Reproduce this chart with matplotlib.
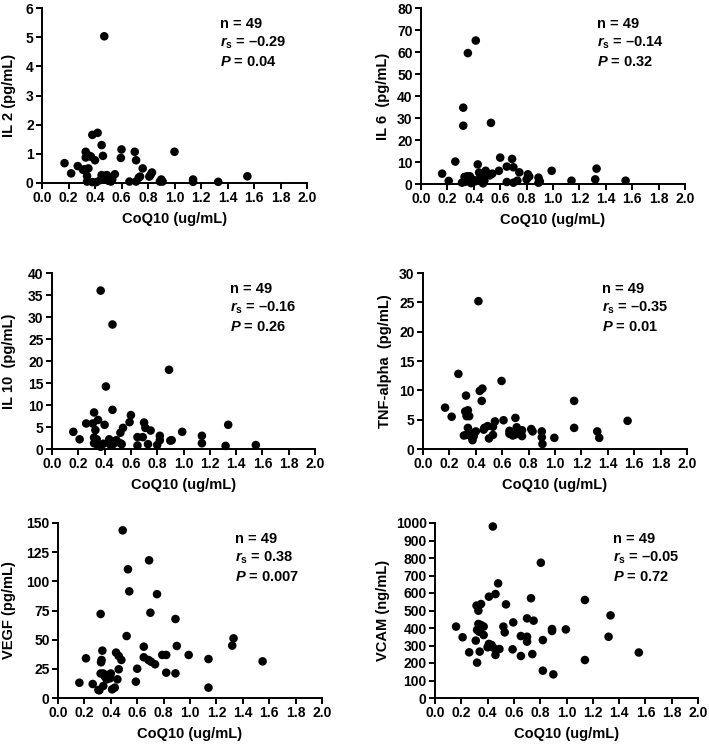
import numpy as np
import matplotlib
matplotlib.use("Agg")
import matplotlib.pyplot as plt
from matplotlib.ticker import FormatStrFormatter

plt.rcParams['font.family'] = ['Liberation Sans', 'DejaVu Sans']
plt.rcParams['font.weight'] = 'bold'
plt.rcParams['mathtext.fontset'] = 'custom'
plt.rcParams['mathtext.rm'] = 'Liberation Sans:bold'
plt.rcParams['mathtext.it'] = 'Liberation Sans:italic:bold'
plt.rcParams['mathtext.bf'] = 'Liberation Sans:bold'

# IL 2
il2_x = [0.17, 0.22, 0.27, 0.33, 0.33, 0.36, 0.38, 0.42, 0.40, 0.35, 0.32, 0.34, 0.34, 0.38,
         0.41, 0.45, 0.46, 0.45, 0.47, 0.49, 0.50, 0.53, 0.55, 0.60, 0.595, 0.66, 0.70, 0.71,
         0.71, 0.76, 0.74, 0.81, 0.83, 0.90, 0.91, 1.00, 1.14, 1.14, 1.33, 1.55, 0.47,
         0.44, 0.48, 0.52, 0.31, 0.37, 0.73, 0.82, 0.89]
il2_y = [0.68, 0.33, 0.58, 1.07, 0.875, 0.93, 1.65, 1.72, 0.78, 0.50, 0.47, 0.24, 0.05, 0.03,
         0.03, 1.30, 0.93, 0.27, 0.12, 0.27, 0.08, 0.12, 0.30, 1.15, 0.86, 0.05, 1.07, 0.78,
         0.05, 0.50, 0.22, 0.22, 0.36, 0.12, 0.05, 1.07, 0.12, 0.04, 0.04, 0.23, 5.03,
         0.10, 0.25, 0.05, 0.45, 0.90, 0.18, 0.28, 0.05]

# IL 6
il6_x = [0.16, 0.21, 0.26, 0.32, 0.32, 0.355, 0.415, 0.53, 0.31, 0.33, 0.35, 0.37, 0.335,
         0.37, 0.40, 0.38, 0.43, 0.44, 0.45, 0.46, 0.47, 0.49, 0.52, 0.54, 0.59, 0.60, 0.65,
         0.65, 0.69, 0.70, 0.70, 0.73, 0.745, 0.81, 0.80, 0.89, 0.89, 0.99, 1.14, 1.32, 1.33,
         1.55, 0.34, 0.36, 0.41, 0.48, 0.50, 0.82, 0.90]
il6_y = [4.7, 1.4, 10.2, 34.7, 26.5, 59.5, 65.2, 27.8, 0.6, 3.2, 3.5, 3.5, 1.0,
         1.0, 1.8, 0.4, 8.9, 5.2, 3.6, 2.6, 0.3, 6.0, 3.9, 4.7, 6.0, 12.0, 7.9,
         0.9, 11.4, 7.6, 0.6, 1.5, 5.3, 4.4, 2.1, 2.9, 0.6, 6.0, 1.5, 2.1, 7.0,
         1.5, 1.8, 2.5, 1.2, 1.5, 4.3, 3.4, 1.2]

# IL 10
il10_x = [0.162, 0.21, 0.26, 0.31, 0.32, 0.35, 0.33, 0.32, 0.33, 0.34, 0.32, 0.35, 0.39,
          0.41, 0.40, 0.46, 0.435, 0.48, 0.49, 0.52, 0.53, 0.44, 0.465, 0.52, 0.54, 0.59,
          0.60, 0.65, 0.65, 0.69, 0.70, 0.71, 0.73, 0.75, 0.80, 0.82, 0.82, 0.90, 0.91,
          0.99, 1.14, 1.14, 1.32, 1.34, 0.37, 0.46, 0.89, 1.55, 0.37]
il10_y = [3.9, 2.2, 5.8, 5.8, 8.3, 6.6, 4.3, 2.6, 1.7, 2.2, 1.3, 0.8, 1.2,
          14.2, 5.5, 8.9, 2.2, 1.8, 2.0, 1.3, 1.1, 1.1, 1.1, 3.7, 4.8, 6.1,
          7.7, 2.7, 0.8, 2.7, 6.0, 4.8, 1.1, 4.2, 0.9, 3.0, 2.0, 1.9, 2.0,
          3.9, 3.0, 1.3, 0.7, 5.5, 36.0, 28.3, 18.0, 0.9, 0.5]

# TNF-alpha
tnf_x = [0.167, 0.217, 0.268, 0.326, 0.32, 0.33, 0.35, 0.34, 0.33, 0.36, 0.375, 0.385, 0.40,
         0.43, 0.45, 0.445, 0.42, 0.465, 0.49, 0.50, 0.53, 0.53, 0.545, 0.595, 0.61, 0.655,
         0.655, 0.70, 0.71, 0.70, 0.75, 0.75, 0.82, 0.83, 0.90, 0.90, 0.905, 0.995, 1.145,
         1.145, 1.32, 1.335, 1.55, 0.37, 0.39, 0.46, 0.31, 0.68, 0.34]
tnf_y = [7.05, 5.5, 12.8, 9.1, 6.4, 5.6, 5.6, 3.6, 2.4, 2.5, 1.5, 2.2, 3.0,
         9.9, 10.3, 8.2, 25.2, 3.6, 3.9, 1.8, 3.8, 2.4, 4.7, 11.6, 4.9, 3.1,
         2.6, 5.3, 3.7, 2.5, 2.2, 3.2, 3.4, 3.0, 3.0, 2.0, 0.85, 1.9, 8.2,
         3.6, 3.0, 1.9, 4.8, 2.0, 2.8, 3.3, 2.3, 2.3, 6.6]

# VEGF
vegf_x = [0.162, 0.212, 0.263, 0.313, 0.336, 0.33, 0.326, 0.323, 0.343, 0.356, 0.369, 0.381,
          0.394, 0.40, 0.343, 0.306, 0.41, 0.43, 0.45, 0.46, 0.44, 0.46, 0.48, 0.323, 0.49,
          0.53, 0.54, 0.52, 0.59, 0.60, 0.65, 0.65, 0.685, 0.705, 0.735, 0.70, 0.69, 0.75,
          0.79, 0.82, 0.82, 0.89, 0.90, 0.89, 0.99, 1.14, 1.14, 1.32, 1.33, 1.55]
vegf_y = [13.1, 34.0, 12.0, 6.6, 40.6, 32.6, 30.6, 21.0, 21.0, 18.3, 16.0, 19.7,
          16.9, 21.0, 10.3, 6.9, 7.4, 8.9, 16.0, 24.6, 38.9, 36.0, 32.6, 72.0, 143.7,
          110.3, 91.4, 53.1, 14.0, 25.1, 44.0, 34.9, 32.6, 31.1, 28.9, 73.1, 118.0, 89.0,
          36.9, 36.9, 21.7, 21.1, 44.6, 67.7, 36.9, 33.4, 8.9, 44.9, 51.1, 31.4]

# VCAM
vcam_x = [0.16, 0.21, 0.26, 0.31, 0.32, 0.316, 0.35, 0.33, 0.33, 0.32, 0.35, 0.37, 0.335,
          0.37, 0.34, 0.40, 0.41, 0.43, 0.44, 0.46, 0.41, 0.46, 0.48, 0.46, 0.49, 0.54,
          0.52, 0.53, 0.595, 0.59, 0.653, 0.70, 0.70, 0.653, 0.70, 0.75, 0.73, 0.74, 0.805,
          0.82, 0.82, 0.89, 0.89, 0.90, 0.995, 1.14, 1.14, 1.32, 1.335, 0.44, 1.55]
vcam_y = [408, 347, 261, 328, 202, 528, 537, 499, 423, 389, 417, 408, 379,
          360, 265, 290, 309, 303, 290, 278, 579, 594, 655, 246, 280, 535,
          408, 375, 432, 278, 354, 350, 322, 240, 455, 442, 570, 251, 773,
          331, 156, 394, 383, 135, 392, 560, 217, 350, 472, 980, 260]

W, H = 709, 745
fig = plt.figure(figsize=(W / 100, H / 100), dpi=100)

panels = [
    # x, y, ylabel, ymax, ystep, r, p, box (l, r, top, bottom px), ylabel right edge px, text pos px
    (il2_x, il2_y, 'IL 2 (pg/mL)', 6, 1, '\u20130.29', '0.04',
     (42, 307, 8, 183), 16, (220, 24)),
    (il6_x, il6_y, 'IL 6  (pg/mL)', 80, 10, '\u20130.14', '0.32',
     (421, 685, 8, 184), 390, (597, 24)),
    (il10_x, il10_y, 'IL 10  (pg/mL)', 40, 5, '\u20130.16', '0.26',
     (52, 315, 273, 449), 16, (230, 289)),
    (tnf_x, tnf_y, 'TNF-alpha  (pg/mL)', 30, 5, '\u20130.35', '0.01',
     (423, 687, 273, 449), 392, (602, 289)),
    (vegf_x, vegf_y, 'VEGF (pg/mL)', 150, 25, '0.38', '0.007',
     (58, 322, 523, 698), 16, (235, 539)),
    (vcam_x, vcam_y, 'VCAM (ng/mL)', 1000, 100, '\u20130.05', '0.72',
     (435, 698, 523, 698), 390, (613, 539)),
]

for x, y, ylab, ymax, ystep, r, p, box, ylx, tpos in panels:
    l, rr, t, b = box
    ax = fig.add_axes([l / W, 1 - b / H, (rr - l) / W, (b - t) / H])
    ax.scatter(x, y, s=38, color='black', edgecolors='none', clip_on=False, zorder=3)
    ax.set_xlim(0, 2.0)
    ax.set_ylim(0, ymax)
    ax.set_xticks(np.arange(0, 2.01, 0.2))
    ax.set_yticks(np.arange(0, ymax + 0.1, ystep))
    ax.xaxis.set_major_formatter(FormatStrFormatter('%.1f'))
    ax.spines['top'].set_visible(False)
    ax.spines['right'].set_visible(False)
    for s in ['left', 'bottom']:
        ax.spines[s].set_linewidth(1.4)
    ax.tick_params(width=1.4, length=4, labelsize=10, pad=2)
    ax.set_ylabel(ylab, fontsize=10.5, fontweight='bold')
    ax.yaxis.set_label_coords((ylx - l) / (rr - l), 0.5)
    ax.set_xlabel('CoQ10 (ug/mL)', fontsize=10.5, fontweight='bold')
    ax.xaxis.set_label_coords(0.5, -29 / (b - t))

    tx, ty = tpos
    lines = ['n = 49', r'$r_\mathrm{s}$ = ' + r, r'$P$ = ' + p]
    for i, s in enumerate(lines):
        fig.text(tx / W, 1 - (ty + 19 * i) / H, s, fontsize=10.5,
                 fontweight='bold', va='center', ha='left')

fig.savefig('out.png', dpi=100)
